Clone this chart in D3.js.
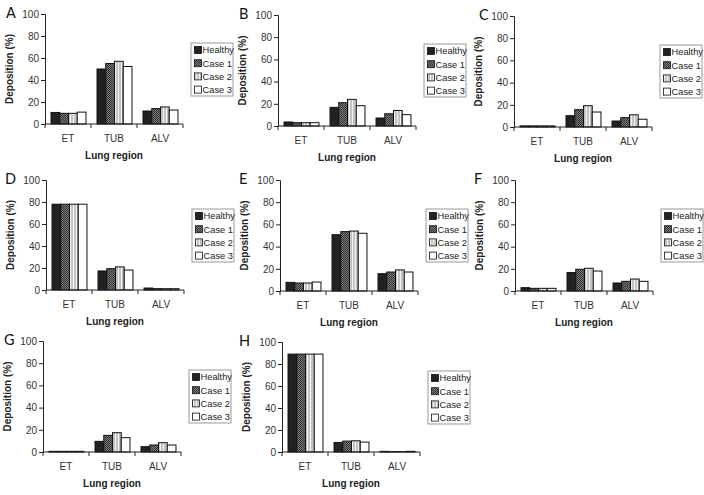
<!DOCTYPE html>
<html><head><meta charset="utf-8">
<script src="https://cdn.jsdelivr.net/npm/d3@7/dist/d3.min.js"></script>
<style>
body{margin:0;background:#fff;}
svg{display:block;font-family:"Liberation Sans",Arial,sans-serif;}
</style></head>
<body><svg id="c" width="704" height="495"></svg>
<script>
// ---- data ----
const categories = ["ET", "TUB", "ALV"];
const seriesNames = ["Healthy", "Case 1", "Case 2", "Case 3"];
const yTicks = [0, 20, 40, 60, 80, 100];
const panelLetters = ["A", "B", "C", "D", "E", "F", "G", "H"];
// values[panel][category][series]
const panelA = [[10.5, 9.7, 9.7, 10.8], [50, 55, 57, 52.3], [11.8, 14, 15.5, 12.7]];
const panelB = [[3.6, 3, 3, 3], [16.8, 21, 24, 18.3], [7.2, 11, 14, 10.2]];
const panelC = [[1, 1, 1, 1], [10.2, 15.6, 19.2, 13.5], [5.4, 8.4, 11, 7]];
const panelD = [[78, 78, 78, 78], [17.3, 19.4, 21, 18.2], [1.8, 1.2, 1.2, 1.2]];
const panelE = [[7.8, 7.2, 7.2, 8.1], [50.7, 53.5, 54, 52], [15.6, 17.1, 19, 17.1]];
const panelF = [[3, 2.4, 2.4, 2.4], [16.6, 19.6, 20.5, 18], [7.2, 8.7, 10.8, 8.7]];
const panelG = [[0.6, 0.6, 0.6, 0.6], [9.6, 15, 17.4, 12.9], [4.8, 6.3, 8.4, 6.3]];
const panelH = [[89, 89, 89, 89], [8.7, 9.9, 10.2, 9], [0.6, 0.3, 0.3, 0.6]];
const panelValues = [panelA, panelB, panelC, panelD, panelE, panelF, panelG, panelH];
const yTitle = "Deposition (%)";
const xTitle = "Lung region";

// ---- layout (positions per panel) ----
const layout = [
  {ax: 45, top: 14, bottom: 124, lx: 6},
  {ax: 278, top: 15, bottom: 126, lx: 239},
  {ax: 514, top: 16, bottom: 127, lx: 479},
  {ax: 46, top: 180, bottom: 290, lx: 5},
  {ax: 280, top: 180, bottom: 291, lx: 239},
  {ax: 515, top: 180, bottom: 291, lx: 474},
  {ax: 43, top: 341, bottom: 452, lx: 4},
  {ax: 282, top: 342, bottom: 452, lx: 239}
];
const axisWidth = 138;

const svg = d3.select("#c");
const defs = svg.append("defs");
// Case 1: dark checker
const p1 = defs.append("pattern").attr("id", "pat1").attr("width", 2).attr("height", 2).attr("patternUnits", "userSpaceOnUse");
p1.append("rect").attr("width", 2).attr("height", 2).attr("fill", "#7a7a7a");
p1.append("rect").attr("width", 1).attr("height", 1).attr("fill", "#333");
p1.append("rect").attr("x", 1).attr("y", 1).attr("width", 1).attr("height", 1).attr("fill", "#333");
// Case 2: light grey vertical stripes
const p2 = defs.append("pattern").attr("id", "pat2").attr("width", 3).attr("height", 3).attr("patternUnits", "userSpaceOnUse");
p2.append("rect").attr("width", 3).attr("height", 3).attr("fill", "#c4c4c4");
p2.append("rect").attr("x", 1).attr("width", 1).attr("height", 3).attr("fill", "#f2f2f2");

const fills = ["#222", "url(#pat1)", "url(#pat2)", "#fff"];

panelValues.forEach((vals, i) => {
  const L = layout[i];
  const g = svg.append("g");
  const x = d3.scaleBand().domain(categories).range([L.ax, L.ax + axisWidth]).paddingInner(0.24).paddingOuter(0.12);
  const xs = d3.scaleBand().domain(seriesNames).range([0, x.bandwidth()]);
  const y = d3.scaleLinear().domain([0, 100]).range([L.bottom, L.top]);

  // bars
  categories.forEach((c, ci) => {
    g.selectAll(null).data(vals[ci]).enter().append("rect")
      .attr("x", (d, si) => x(c) + xs(seriesNames[si]) + 0.5)
      .attr("y", d => y(d))
      .attr("width", xs.bandwidth())
      .attr("height", d => y(0) - y(d))
      .attr("fill", (d, si) => fills[si])
      .attr("stroke", "#111").attr("stroke-width", 1);
  });

  // y axis
  const ya = g.append("g").attr("transform", `translate(${L.ax},0)`)
    .call(d3.axisLeft(y).tickValues(yTicks).tickSize(4).tickPadding(2));
  ya.select(".domain").attr("stroke", "#222");
  ya.selectAll(".tick line").attr("stroke", "#222");
  ya.selectAll("text").attr("font-size", 10).attr("fill", "#333").attr("font-family", "Liberation Sans, Arial, sans-serif");

  // x axis with ticks at category boundaries
  const xa = g.append("g").attr("transform", `translate(0,${L.bottom})`);
  xa.append("line").attr("x1", L.ax).attr("x2", L.ax + axisWidth).attr("stroke", "#222");
  const bounds = [0, 1, 2, 3].map(k => L.ax + k * x.step());
  xa.selectAll(null).data(bounds).enter().append("line")
    .attr("x1", d => d).attr("x2", d => d).attr("y1", 0).attr("y2", 4).attr("stroke", "#222");
  xa.selectAll(null).data(categories).enter().append("text")
    .attr("x", d => x(d) + x.bandwidth() / 2).attr("y", 18)
    .attr("text-anchor", "middle").attr("font-size", 10).attr("fill", "#333").text(d => d);
  xa.append("text").attr("x", L.ax + axisWidth / 2).attr("y", 35)
    .attr("text-anchor", "middle").attr("font-size", 10).attr("font-weight", "bold").attr("fill", "#222").text(xTitle);

  // y title
  g.append("text").attr("transform", `translate(${L.ax - 32},${(L.top + L.bottom) / 2}) rotate(-90)`)
    .attr("text-anchor", "middle").attr("font-size", 10).attr("font-weight", "bold").attr("fill", "#222").text(yTitle);

  // panel letter
  g.append("text").attr("x", L.lx).attr("y", L.top + 4).attr("font-size", 14.5)
    .attr("font-family", "Lato, 'Open Sans', sans-serif").attr("fill", "#111").text(panelLetters[i]);

  // legend
  const lgx = L.ax + 146, lgy = L.top + 29;
  g.append("rect").attr("x", lgx).attr("y", lgy).attr("width", 42).attr("height", 53)
    .attr("fill", "#fff").attr("stroke", "#999").attr("stroke-width", 1);
  seriesNames.forEach((s, si) => {
    const cy = lgy + 7 + si * 13.2;
    g.append("rect").attr("x", lgx + 3.5).attr("y", cy - 3.5).attr("width", 7).attr("height", 7)
      .attr("fill", fills[si]).attr("stroke", "#111").attr("stroke-width", 0.8);
    g.append("text").attr("x", lgx + 11.5).attr("y", cy + 3.3).attr("font-size", 9.3).attr("fill", "#222").text(s);
  });
});
</script>
</body></html>
